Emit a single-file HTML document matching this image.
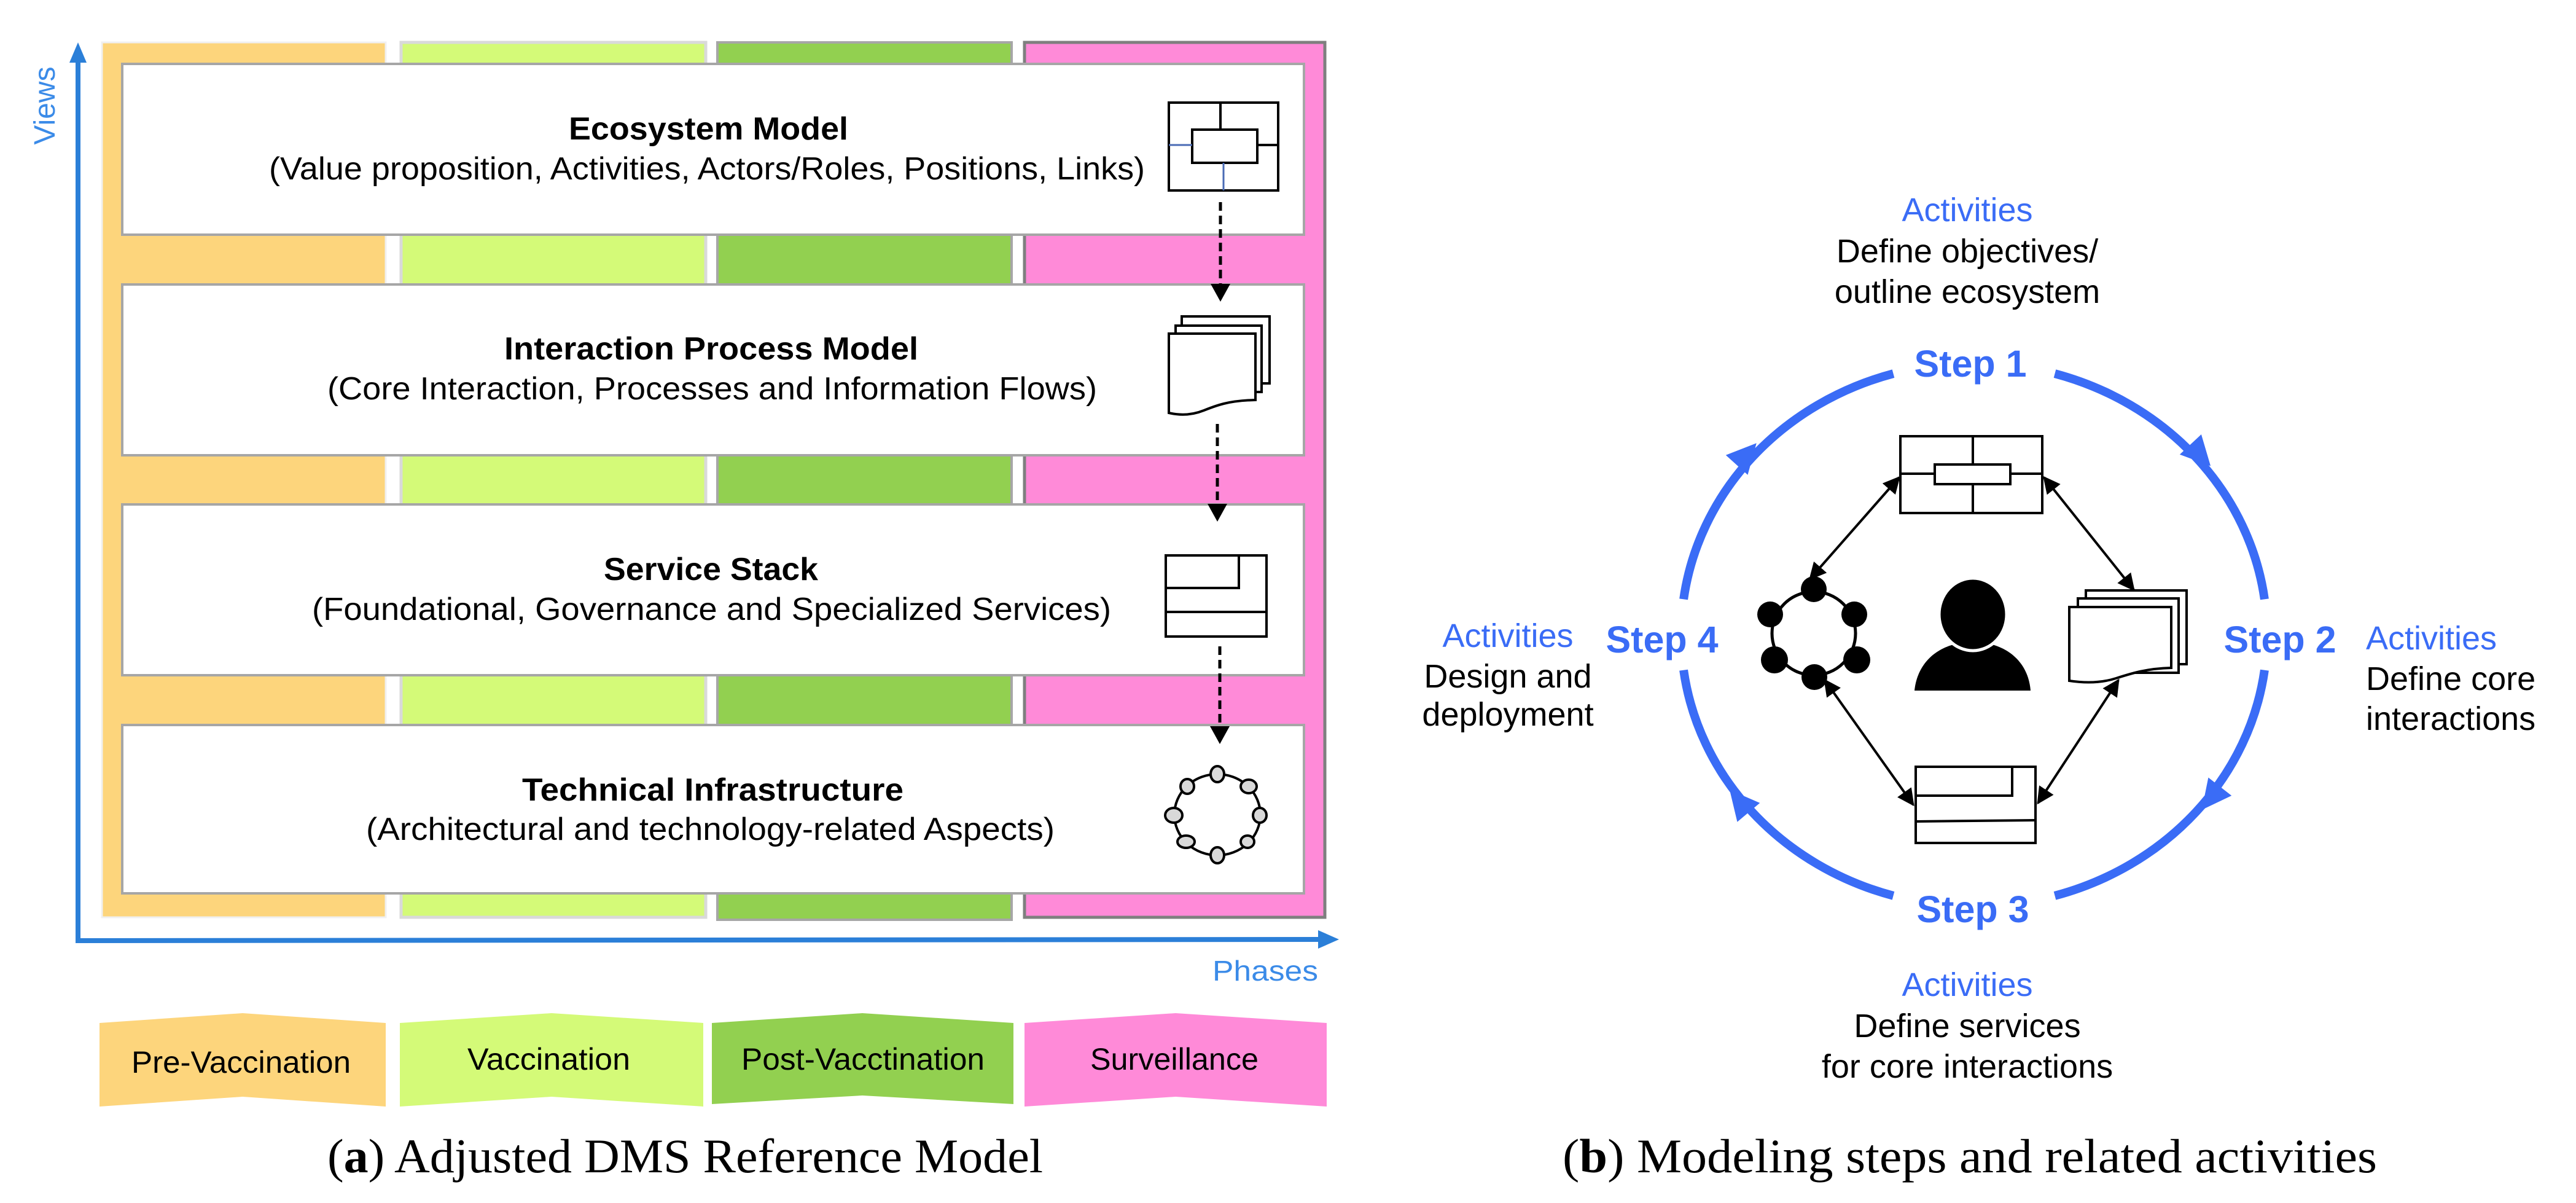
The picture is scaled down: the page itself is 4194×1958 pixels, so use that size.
<!DOCTYPE html>
<html><head><meta charset="utf-8"><style>
html,body{margin:0;padding:0;background:#fff;}
svg{display:block;}
text{font-family:"Liberation Sans",Arial,sans-serif;}
</style></head><body>
<svg width="4194" height="1958" viewBox="0 0 4194 1958" xmlns="http://www.w3.org/2000/svg">
<defs>
<marker id="ah" viewBox="0 0 10 10" refX="9" refY="5" markerWidth="7" markerHeight="7" orient="auto-start-reverse" markerUnits="strokeWidth"><path d="M0,0 L10,5 L0,10 Z" fill="#000"/></marker>
</defs>
<rect x="166" y="69" width="462" height="1424" fill="#fdd57c" stroke="#f0f0f0" stroke-width="3"/>
<rect x="653" y="69" width="496" height="1424" fill="#d4fa78" stroke="#d9d9d9" stroke-width="5"/>
<rect x="1168" y="69" width="479" height="1428" fill="#92d050" stroke="#a6a6a6" stroke-width="4"/>
<rect x="1668" y="69" width="489" height="1424" fill="#ff8ad8" stroke="#7f7f7f" stroke-width="5"/>
<rect x="199" y="104" width="1924" height="278" fill="#fff" stroke="#a6a6a6" stroke-width="4"/>
<rect x="199" y="463" width="1924" height="278" fill="#fff" stroke="#a6a6a6" stroke-width="4"/>
<rect x="199" y="821" width="1924" height="278" fill="#fff" stroke="#a6a6a6" stroke-width="4"/>
<rect x="199" y="1180" width="1924" height="274" fill="#fff" stroke="#a6a6a6" stroke-width="4"/>
<g font-size="52" fill="#000">
<text x="926" y="227" font-weight="bold" textLength="455" lengthAdjust="spacingAndGlyphs">Ecosystem Model</text>
<text x="438" y="292" textLength="1426" lengthAdjust="spacingAndGlyphs">(Value proposition, Activities, Actors/Roles, Positions, Links)</text>
<text x="821" y="585" font-weight="bold" textLength="674" lengthAdjust="spacingAndGlyphs">Interaction Process Model</text>
<text x="533" y="650" textLength="1253" lengthAdjust="spacingAndGlyphs">(Core Interaction, Processes and Information Flows)</text>
<text x="983" y="944" font-weight="bold" textLength="349" lengthAdjust="spacingAndGlyphs">Service Stack</text>
<text x="508" y="1009" textLength="1301" lengthAdjust="spacingAndGlyphs">(Foundational, Governance and Specialized Services)</text>
<text x="850" y="1303" font-weight="bold" textLength="621" lengthAdjust="spacingAndGlyphs">Technical Infrastructure</text>
<text x="596" y="1367" textLength="1121" lengthAdjust="spacingAndGlyphs">(Architectural and technology-related Aspects)</text>
</g>
<g stroke="#000" stroke-width="4" fill="none">
<rect x="1903" y="167" width="178" height="143"/>
<rect x="1941" y="211" width="106" height="54" fill="#fff"/>
<line x1="1987" y1="167" x2="1987" y2="211"/>
<line x1="2047" y1="236" x2="2081" y2="236"/>
</g>
<line x1="1903" y1="236" x2="1941" y2="236" stroke="#4a6bb5" stroke-width="3"/>
<line x1="1992" y1="265" x2="1992" y2="310" stroke="#4a6bb5" stroke-width="3"/>
<g stroke="#000" stroke-width="5" stroke-dasharray="14,8">
<line x1="1987" y1="329" x2="1987" y2="464"/>
<line x1="1982" y1="690" x2="1982" y2="822"/>
<line x1="1986" y1="1052" x2="1986" y2="1182"/>
</g>
<g fill="#000">
<polygon points="1971,462 2003,462 1987,491"/>
<polygon points="1966,820 1998,820 1982,849"/>
<polygon points="1970,1182 2002,1182 1986,1211"/>
</g>
<g stroke="#000" stroke-width="4" fill="#fff">
<rect x="1924" y="515" width="143" height="109"/>
<rect x="1914" y="530" width="140" height="108"/>
<path d="M1903,543 H2044 V651 C2000,652 1980,660 1960,668 C1940,676 1920,676 1903,672 Z"/>
</g>
<g stroke="#000" stroke-width="4" fill="none">
<rect x="1898" y="904" width="164" height="132"/>
<path d="M1898,957 H2017 V904"/>
<line x1="1898" y1="996" x2="2062" y2="996"/>
</g>
<ellipse cx="1982" cy="1326" rx="70" ry="66" fill="none" stroke="#000" stroke-width="4"/>
<g fill="#d9d9d9" stroke="#000" stroke-width="4">
<ellipse cx="1982" cy="1260" rx="11" ry="13"/>
<ellipse cx="2033" cy="1280" rx="13" ry="11"/>
<ellipse cx="2051" cy="1327" rx="11" ry="12"/>
<ellipse cx="2031" cy="1370" rx="11" ry="10"/>
<ellipse cx="1982" cy="1392" rx="11" ry="13"/>
<ellipse cx="1931" cy="1370" rx="14" ry="10"/>
<ellipse cx="1911" cy="1327" rx="14" ry="12"/>
<ellipse cx="1933" cy="1280" rx="11" ry="12"/>
</g>
<g stroke="#2b7fd8" stroke-width="8" fill="none">
<line x1="127" y1="1531" x2="127" y2="100"/>
<line x1="123" y1="1531" x2="2150" y2="1529"/>
</g>
<polygon points="127,69 113,102 141,102" fill="#2b7fd8"/>
<polygon points="2180,1529 2146,1514 2146,1544" fill="#2b7fd8"/>
<text x="0" y="0" font-size="48" fill="#3b8be8" text-anchor="middle" transform="translate(89,172) rotate(-90)">Views</text>
<text x="1974" y="1596" font-size="46" fill="#3b8be8" textLength="172" lengthAdjust="spacingAndGlyphs">Phases</text>
<polygon points="162,1665 395,1649 628,1665 628,1801 395,1785 162,1801" fill="#fdd57c"/>
<polygon points="651,1665 898,1649 1145,1665 1145,1801 898,1785 651,1801" fill="#d4fa78"/>
<polygon points="1159,1665 1404,1649 1650,1665 1650,1797 1404,1783 1159,1797" fill="#92d050"/>
<polygon points="1668,1665 1914,1649 2160,1665 2160,1801 1914,1785 1668,1801" fill="#ff8ad8"/>
<g font-size="50" fill="#000">
<text x="214" y="1746" textLength="357" lengthAdjust="spacingAndGlyphs">Pre-Vaccination</text>
<text x="761" y="1741" textLength="265" lengthAdjust="spacingAndGlyphs">Vaccination</text>
<text x="1207" y="1741" textLength="396" lengthAdjust="spacingAndGlyphs">Post-Vacctination</text>
<text x="1775" y="1741" textLength="274" lengthAdjust="spacingAndGlyphs">Surveillance</text>
</g>
<text x="533" y="1908" font-size="78" textLength="1165" lengthAdjust="spacingAndGlyphs" style="font-family:'Liberation Serif',serif">(<tspan font-weight="bold">a</tspan>) Adjusted DMS Reference Model</text>
<g stroke="#3a6cf6" stroke-width="14" fill="none">
<path d="M3345.5,608.1 A477,442 0 0 1 3686.9,975.3"/>
<path d="M3686.9,1090.7 A477,442 0 0 1 3345.5,1457.9"/>
<path d="M3082.5,1457.9 A477,442 0 0 1 2741.1,1090.7"/>
<path d="M2741.1,975.3 A477,442 0 0 1 3082.5,608.1"/>
</g>
<g fill="#3a6cf6">
<polygon points="28,0 -20,-24 -20,24" transform="translate(3580,738) rotate(47)"/>
<polygon points="28,0 -20,-24 -20,24" transform="translate(3602,1296) rotate(128)"/>
<polygon points="28,0 -20,-24 -20,24" transform="translate(2834,1307) rotate(230)"/>
<polygon points="28,0 -20,-24 -20,24" transform="translate(2841,742) rotate(-48)"/>
</g>
<g font-size="61" font-weight="bold" fill="#3a6cf6" text-anchor="middle">
<text x="3208" y="613">Step 1</text>
<text x="3712" y="1062">Step 2</text>
<text x="3212" y="1501">Step 3</text>
<text x="2706" y="1062">Step 4</text>
</g>
<g font-size="54" fill="#000">
<text x="3203" y="360" text-anchor="middle" fill="#3a6cf6">Activities</text>
<text x="3203" y="427" text-anchor="middle">Define objectives/</text>
<text x="3203" y="493" text-anchor="middle">outline ecosystem</text>
<text x="3852" y="1057" fill="#3a6cf6">Activities</text>
<text x="3852" y="1123">Define core</text>
<text x="3852" y="1188">interactions</text>
<text x="2455" y="1053" text-anchor="middle" fill="#3a6cf6">Activities</text>
<text x="2455" y="1119" text-anchor="middle">Design and</text>
<text x="2455" y="1181" text-anchor="middle">deployment</text>
<text x="3203" y="1621" text-anchor="middle" fill="#3a6cf6">Activities</text>
<text x="3203" y="1688" text-anchor="middle">Define services</text>
<text x="3203" y="1754" text-anchor="middle">for core interactions</text>
</g>
<g stroke="#000" stroke-width="4" marker-start="url(#ah)" marker-end="url(#ah)">
<line x1="3092" y1="777" x2="2947" y2="942"/>
<line x1="3328" y1="777" x2="3474" y2="960"/>
<line x1="2971" y1="1107" x2="3115" y2="1310"/>
<line x1="3449" y1="1107" x2="3318" y2="1307"/>
</g>
<g stroke="#000" stroke-width="4" fill="none">
<rect x="3094" y="710" width="231" height="125" fill="#fff"/>
<line x1="3212" y1="710" x2="3212" y2="835"/>
<line x1="3094" y1="771" x2="3325" y2="771"/>
<rect x="3150" y="756" width="123" height="32" fill="#fff"/>
</g>
<ellipse cx="2953" cy="1031" rx="68" ry="68" fill="none" stroke="#000" stroke-width="5"/>
<g fill="#000">
<circle cx="2953" cy="959" r="21"/>
<circle cx="3019" cy="1000" r="21"/>
<circle cx="3023" cy="1074" r="22"/>
<circle cx="2954" cy="1102" r="21"/>
<circle cx="2889" cy="1074" r="22"/>
<circle cx="2882" cy="1000" r="21"/>
</g>
<path d="M3117,1124 C3122,1075 3160,1045 3212,1045 C3264,1045 3302,1075 3306,1124 Z" fill="#000"/>
<ellipse cx="3212" cy="1000" rx="55" ry="59" fill="#000" stroke="#fff" stroke-width="5"/>
<g stroke="#000" stroke-width="4" fill="#fff">
<rect x="3396" y="961" width="164" height="120"/>
<rect x="3383" y="974" width="164" height="121"/>
<path d="M3369,988 H3535 V1087 C3495,1088 3470,1096 3445,1104 C3420,1112 3395,1112 3369,1108 Z"/>
</g>
<g stroke="#000" stroke-width="4" fill="none">
<rect x="3119" y="1248" width="195" height="124" fill="#fff"/>
<path d="M3119,1295 H3276 V1250"/>
<line x1="3119" y1="1337" x2="3314" y2="1335"/>
</g>
<text x="2544" y="1908" font-size="78" textLength="1326" lengthAdjust="spacingAndGlyphs" style="font-family:'Liberation Serif',serif">(<tspan font-weight="bold">b</tspan>) Modeling steps and related activities</text>
</svg>
</body></html>
